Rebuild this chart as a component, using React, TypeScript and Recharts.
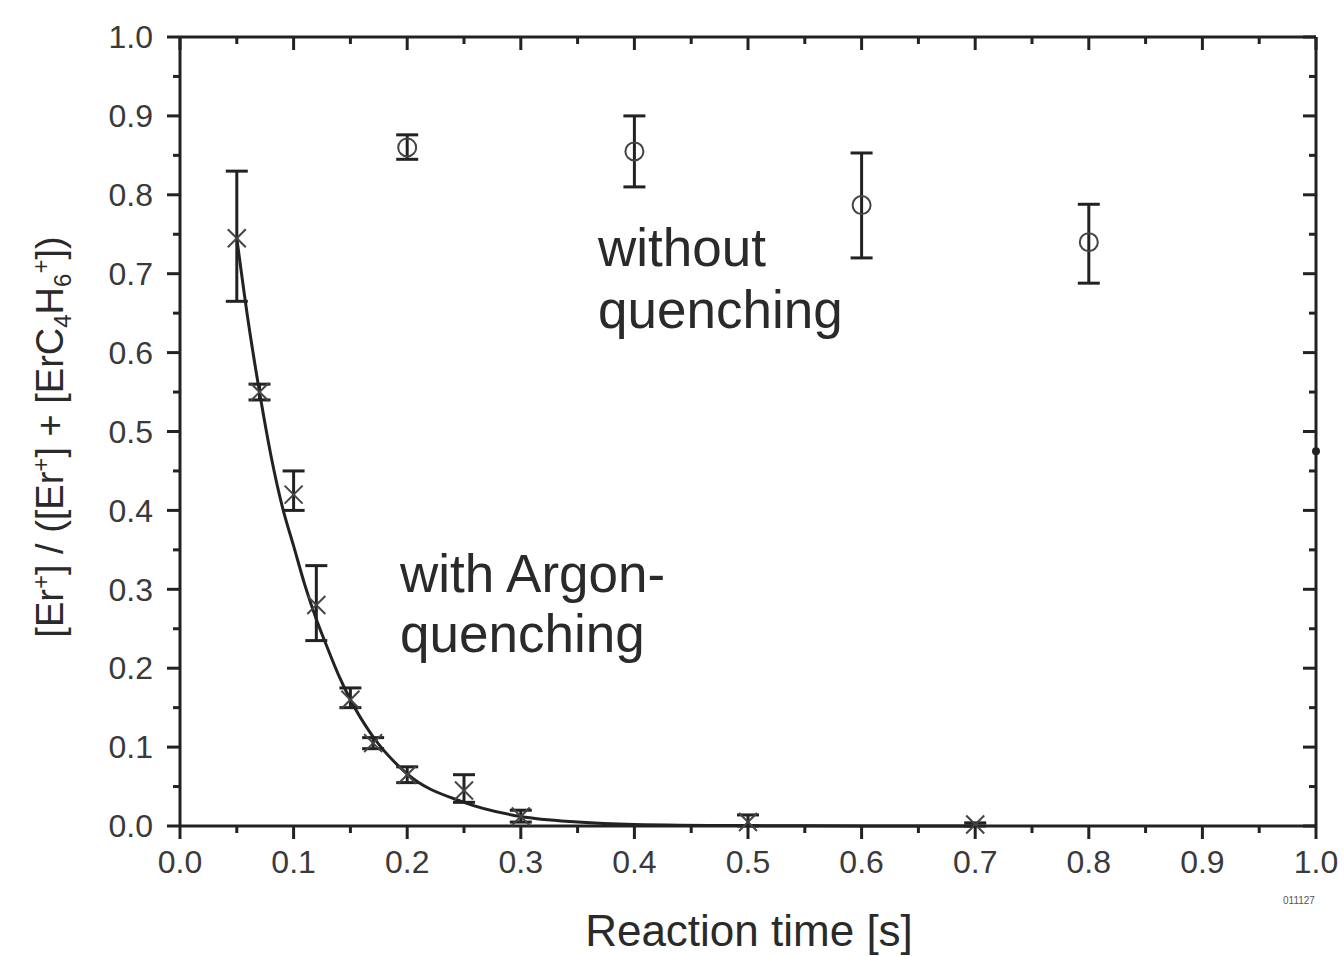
// Er+ decay: with / without argon quenching, exponential fit
import { ErrorBar, Scatter, ScatterChart, XAxis, YAxis } from 'recharts'

const INK = '#222'
const TICK_TXT = '#3a3a3a'

// with Argon-quenching (crosses)
const qTime = [0.05, 0.07, 0.1, 0.12, 0.15, 0.17, 0.2, 0.25, 0.3, 0.5, 0.7]
const qValue = [0.745, 0.55, 0.42, 0.28, 0.16, 0.105, 0.065, 0.045, 0.012, 0.005, 0.002]
const qLow = [0.665, 0.54, 0.4, 0.235, 0.15, 0.098, 0.055, 0.03, 0.005, 0.0, 0.0]
const qHigh = [0.83, 0.56, 0.45, 0.33, 0.175, 0.112, 0.075, 0.065, 0.02, 0.014, 0.004]

// without quenching (open circles)
const nTime = [0.2, 0.4, 0.6, 0.8]
const nValue = [0.86, 0.855, 0.787, 0.74]
const nLow = [0.845, 0.81, 0.72, 0.688]
const nHigh = [0.876, 0.9, 0.853, 0.788]

// fitted decay curve
const fitTime = [0.05, 0.06, 0.07, 0.08, 0.09, 0.1, 0.11, 0.12, 0.13, 0.14, 0.15, 0.17, 0.2, 0.25, 0.3, 0.35, 0.4, 0.5, 0.6, 0.7]
const fitValue = [0.745, 0.64, 0.55, 0.47, 0.405, 0.355, 0.305, 0.262, 0.225, 0.19, 0.16, 0.113, 0.066, 0.03, 0.012, 0.005, 0.002, 0.0005, 0.0001, 0.0]

// stray dot on the right frame
const dotTime = [1.0]
const dotValue = [0.475]

const xTicks = [0, 0.05, 0.1, 0.15, 0.2, 0.25, 0.3, 0.35, 0.4, 0.45, 0.5, 0.55, 0.6, 0.65, 0.7, 0.75, 0.8, 0.85, 0.9, 0.95, 1.0]
const yTicks = [0, 0.05, 0.1, 0.15, 0.2, 0.25, 0.3, 0.35, 0.4, 0.45, 0.5, 0.55, 0.6, 0.65, 0.7, 0.75, 0.8, 0.85, 0.9, 0.95, 1.0]

const quenched = qTime.map((t, i) => ({ t, v: qValue[i], err: [qValue[i] - qLow[i], qHigh[i] - qValue[i]] }))
const unquenched = nTime.map((t, i) => ({ t, v: nValue[i], err: [nValue[i] - nLow[i], nHigh[i] - nValue[i]] }))
const fit = fitTime.map((t, i) => ({ t, v: fitValue[i] }))
const dot = dotTime.map((t, i) => ({ t, v: dotValue[i] }))

const isMajor = (v: number) => Math.round(v * 100) % 10 === 0
const FONT = 'Liberation Sans, Arial, sans-serif'

function BottomTick({ x, y, payload }: any) {
  const major = isMajor(payload.value)
  return (
    <g>
      <line x1={x} x2={x} y1={y} y2={y + (major ? 13 : 7)} stroke={INK} strokeWidth={3} />
      {major && (
        <text x={x} y={y + 47} textAnchor="middle" fontSize={32} fill={TICK_TXT} fontFamily={FONT}>
          {payload.value.toFixed(1)}
        </text>
      )}
    </g>
  )
}

function LeftTick({ x, y, payload }: any) {
  const major = isMajor(payload.value)
  return (
    <g>
      <line x1={x} x2={x - (major ? 13 : 7)} y1={y} y2={y} stroke={INK} strokeWidth={3} />
      {major && (
        <text x={x - 27} y={y} dy="0.35em" textAnchor="end" fontSize={32} fill={TICK_TXT} fontFamily={FONT}>
          {payload.value.toFixed(1)}
        </text>
      )}
    </g>
  )
}

function TopTick({ x, y, payload }: any) {
  const major = isMajor(payload.value)
  return <line x1={x} x2={x} y1={y} y2={y + (major ? 13 : 7)} stroke={INK} strokeWidth={3} />
}

function RightTick({ x, y, payload }: any) {
  const major = isMajor(payload.value)
  return <line x1={x} x2={x - (major ? 13 : 7)} y1={y} y2={y} stroke={INK} strokeWidth={3} />
}

function Cross({ cx, cy }: any) {
  const s = 9
  return (
    <g stroke="#444" strokeWidth={2}>
      <line x1={cx - s} y1={cy - s} x2={cx + s} y2={cy + s} />
      <line x1={cx - s} y1={cy + s} x2={cx + s} y2={cy - s} />
    </g>
  )
}

function Ring({ cx, cy }: any) {
  return <circle cx={cx} cy={cy} r={9} fill="none" stroke="#444" strokeWidth={2} />
}

function Dot({ cx, cy }: any) {
  return <circle cx={cx} cy={cy} r={4} fill={INK} />
}

const noShape = () => <g />

export default function App() {
  return (
    <div style={{ position: 'absolute', left: 0, top: 0, width: 1344, height: 956, background: '#fff' }}>
      <ScatterChart width={1344} height={956} margin={{ top: 36, right: 27, bottom: 70, left: 80 }}>
        <XAxis
          xAxisId="b"
          dataKey="t"
          type="number"
          domain={[0, 1]}
          ticks={xTicks}
          interval={0}
          tickSize={0}
          tickMargin={0}
          height={60}
          axisLine={{ stroke: INK, strokeWidth: 3 }}
          tick={<BottomTick />}
        />
        <XAxis
          xAxisId="top"
          orientation="top"
          dataKey="t"
          type="number"
          domain={[0, 1]}
          ticks={xTicks}
          interval={0}
          tickSize={0}
          tickMargin={0}
          height={1}
          axisLine={{ stroke: INK, strokeWidth: 3 }}
          tick={<TopTick />}
        />
        <YAxis
          yAxisId="l"
          dataKey="v"
          type="number"
          domain={[0, 1]}
          ticks={yTicks}
          interval={0}
          tickSize={0}
          tickMargin={0}
          width={100}
          axisLine={{ stroke: INK, strokeWidth: 3 }}
          tick={<LeftTick />}
        />
        <YAxis
          yAxisId="right"
          orientation="right"
          dataKey="v"
          type="number"
          domain={[0, 1]}
          ticks={yTicks}
          interval={0}
          tickSize={0}
          tickMargin={0}
          width={1}
          axisLine={{ stroke: INK, strokeWidth: 3 }}
          tick={<RightTick />}
        />
        <Scatter
          xAxisId="b"
          yAxisId="l"
          data={fit}
          line={{ stroke: INK, strokeWidth: 3 }}
          lineJointType="monotoneX"
          shape={noShape}
          isAnimationActive={false}
        />
        <Scatter xAxisId="b" yAxisId="l" data={quenched} shape={<Cross />} isAnimationActive={false}>
          <ErrorBar dataKey="err" direction="y" width={11} stroke={INK} strokeWidth={3} isAnimationActive={false} />
        </Scatter>
        <Scatter xAxisId="b" yAxisId="l" data={unquenched} shape={<Ring />} isAnimationActive={false}>
          <ErrorBar dataKey="err" direction="y" width={11} stroke={INK} strokeWidth={3} isAnimationActive={false} />
        </Scatter>
        <Scatter xAxisId="top" yAxisId="right" data={dot} shape={<Dot />} isAnimationActive={false} />
      </ScatterChart>
      <svg width={1344} height={956} style={{ position: 'absolute', left: 0, top: 0, pointerEvents: 'none' }}>
        <g fontFamily={FONT} fill="#2a2a2a">
          <text x={598} y={266} fontSize={53}>without</text>
          <text x={598} y={328} fontSize={53}>quenching</text>
          <text x={400} y={592} fontSize={53}>with Argon-</text>
          <text x={400} y={652} fontSize={53}>quenching</text>
          <text x={749} y={946} fontSize={44} textAnchor="middle">Reaction time [s]</text>
          <text transform="rotate(-90)" x={-437} y={63} fontSize={38} textAnchor="middle">
            [Er<tspan dy={-14} fontSize={24}>+</tspan>
            <tspan dy={14}>] / ([Er</tspan>
            <tspan dy={-14} fontSize={24}>+</tspan>
            <tspan dy={14}>] + [ErC</tspan>
            <tspan dy={8} fontSize={24}>4</tspan>
            <tspan dy={-8}>H</tspan>
            <tspan dy={8} fontSize={24}>6</tspan>
            <tspan dy={-22} fontSize={24}>+</tspan>
            <tspan dy={14}>])</tspan>
          </text>
          <text x={1283} y={904} fontSize={10} fill="#555">011127</text>
        </g>
      </svg>
    </div>
  )
}
